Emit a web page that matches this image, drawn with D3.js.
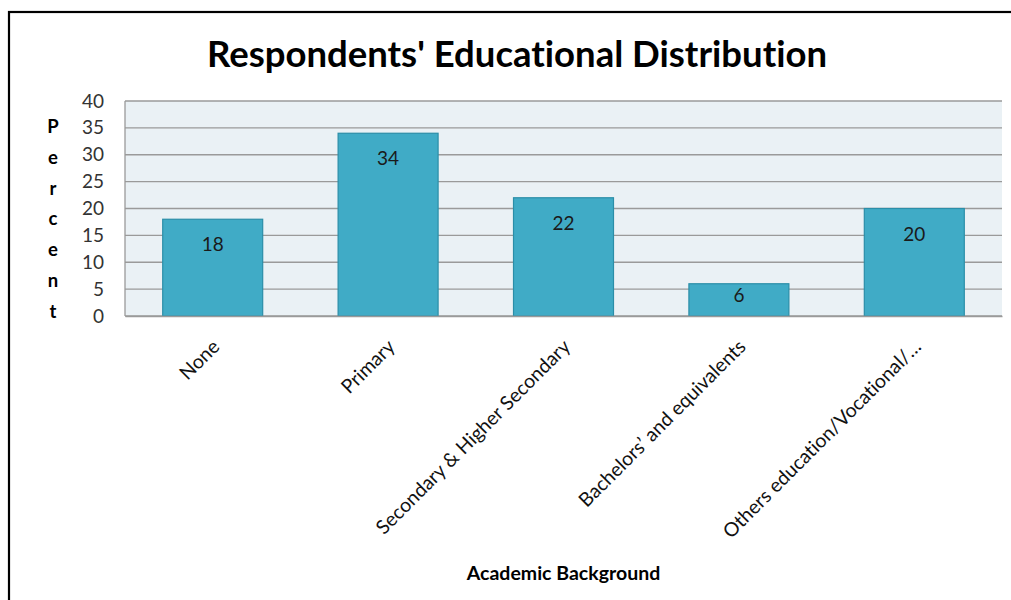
<!DOCTYPE html>
<html>
<head>
<meta charset="utf-8">
<script src="https://cdn.jsdelivr.net/npm/d3@7"></script>
<style>
  html, body { margin: 0; padding: 0; background: #fff; }
  svg { display: block; font-family: Lato, "Open Sans", sans-serif; font-variant-ligatures: none; font-feature-settings: "liga" 0; }
</style>
</head>
<body>
<svg id="chart" width="1011" height="600"></svg>
<script>
const categories = ["None", "Primary", "Secondary & Higher Secondary", "Bachelors\u2019 and equivalents", "Others education/Vocational/\u2026"];
const values = [18, 34, 22, 6, 20];
const yTicks = [0, 5, 10, 15, 20, 25, 30, 35, 40];
const title = "Respondents' Educational Distribution";
const xTitle = "Academic Background";
const yTitleLetters = ["P", "e", "r", "c", "e", "n", "t"];

const svg = d3.select("#chart");

// outer frame (clipped at right/bottom like the reference)
svg.append("rect")
  .attr("x", 9).attr("y", 12).attr("width", 1030).attr("height", 620)
  .attr("fill", "none").attr("stroke", "#000").attr("stroke-width", 2.2);

const plot = { left: 125, right: 1002, top: 101, bottom: 316 };

const x = d3.scaleBand().domain(categories).range([plot.left, plot.right]).paddingInner(0.43).paddingOuter(0.215);
const y = d3.scaleLinear().domain([0, 40]).range([plot.bottom, plot.top]);

// plot background
svg.append("rect")
  .attr("x", plot.left).attr("y", plot.top)
  .attr("width", plot.right - plot.left).attr("height", plot.bottom - plot.top)
  .attr("fill", "#eaf1f5");

// gridlines
svg.append("g").selectAll("line").data(yTicks).join("line")
  .attr("x1", plot.left).attr("x2", plot.right)
  .attr("y1", d => y(d)).attr("y2", d => y(d))
  .attr("stroke", "#9a9a9a").attr("stroke-width", 1.3);

// left axis line
svg.append("line")
  .attr("x1", plot.left).attr("x2", plot.left)
  .attr("y1", plot.top).attr("y2", plot.bottom)
  .attr("stroke", "#9a9a9a").attr("stroke-width", 1.3);

// y axis tick labels
const yAxis = d3.axisLeft(y).tickValues(yTicks).tickSize(0).tickPadding(21);
const gy = svg.append("g").attr("transform", `translate(${plot.left},0)`).call(yAxis);
gy.select(".domain").remove();
gy.selectAll("text")
  .attr("font-family", "Lato, sans-serif")
  .attr("font-size", 19).attr("fill", "#333");

// bars
svg.append("g").selectAll("rect").data(values).join("rect")
  .attr("x", (d, i) => x(categories[i]))
  .attr("y", d => y(d))
  .attr("width", x.bandwidth())
  .attr("height", d => y(0) - y(d))
  .attr("fill", "#40abc6")
  .attr("stroke", "#2b8ea8").attr("stroke-width", 1.2);

// value labels (inside end; centred when the bar is short)
svg.append("g").selectAll("text").data(values).join("text")
  .attr("x", (d, i) => x(categories[i]) + x.bandwidth() / 2)
  .attr("y", d => Math.min(y(d) + 32, (y(d) + y(0)) / 2 + 2))
  .attr("text-anchor", "middle")
  .attr("font-size", 19).attr("fill", "#1a1a1a")
  .text(d => d);

// x axis tick labels
const xAxis = d3.axisBottom(x).tickSize(0).tickPadding(0);
const gx = svg.append("g").attr("transform", `translate(0,${plot.bottom})`).call(xAxis);
gx.select(".domain").attr("stroke", "#9a9a9a").attr("stroke-width", 1.3);
gx.selectAll("text")
  .attr("font-family", "Lato, sans-serif")
  .attr("font-size", 19.5).attr("fill", "#111")
  .attr("text-anchor", "end")
  .attr("dy", 0)
  .attr("transform", "translate(8,32) rotate(-45)");

// title
svg.append("text")
  .attr("x", 517).attr("y", 67)
  .attr("text-anchor", "middle")
  .attr("font-size", 36.5).attr("font-weight", "bold").attr("fill", "#000")
  .text(title);

// x title
svg.append("text")
  .attr("x", (plot.left + plot.right) / 2).attr("y", 580)
  .attr("text-anchor", "middle")
  .attr("font-size", 19.5).attr("font-weight", "bold").attr("fill", "#000")
  .text(xTitle);

// y title (stacked letters)
svg.append("g").selectAll("text").data(yTitleLetters).join("text")
  .attr("x", 53).attr("y", (d, i) => 133 + i * 30.8)
  .attr("text-anchor", "middle")
  .attr("font-size", 18.5).attr("font-weight", "bold").attr("fill", "#000")
  .text(d => d);
</script>
</body>
</html>
